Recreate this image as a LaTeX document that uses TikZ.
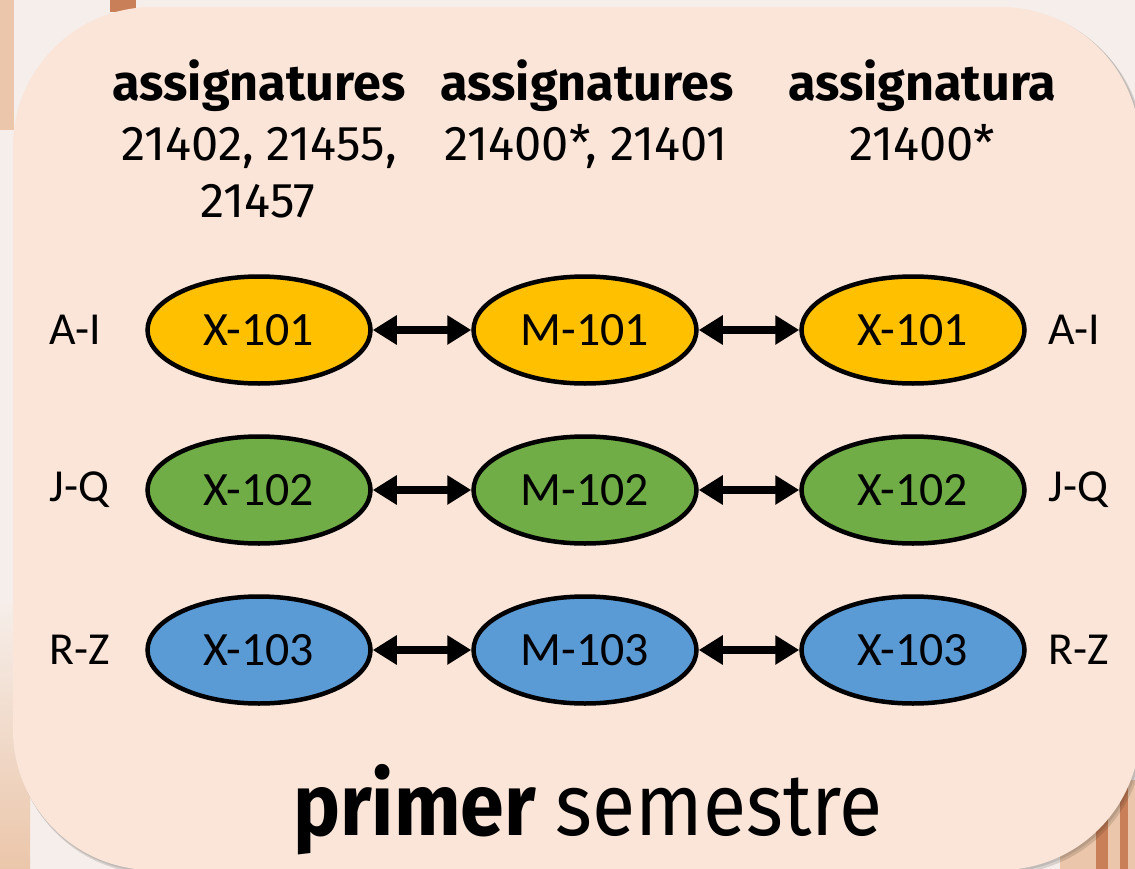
\documentclass[tikz,border=0pt]{standalone}
\usepackage{fontspec}
\setmainfont{Carlito}
\newfontfamily\hfont{Fira Sans}
\newfontfamily\ffont[FakeStretch=0.9]{Fira Sans}
\usetikzlibrary{arrows.meta,shapes.geometric}
\definecolor{panel}{HTML}{FAE5D8}
\definecolor{cyel}{HTML}{FFC000}
\definecolor{cgrn}{HTML}{70AD47}
\definecolor{cblu}{HTML}{5B9BD5}
\definecolor{bgl}{HTML}{F6EEEA}
\definecolor{wood}{HTML}{C98058}
\definecolor{woodl}{HTML}{EBC6AA}
\begin{document}
\begin{tikzpicture}[x=1bp,y=-1bp,
  ell/.style={ellipse,draw=black,line width=4.5bp,minimum width=223bp,minimum height=107bp,inner sep=0pt,font=\fontsize{48}{56}\selectfont},
  biarrow/.style={line width=8bp,{Triangle[length=24bp,width=28bp]}-{Triangle[length=24bp,width=28bp]}},
  side/.style={anchor=west,font=\fontsize{46}{52}\selectfont},
  head/.style={anchor=base,font=\hfont\bfseries\fontsize{50.5}{56}\selectfont},
  num/.style={anchor=base,font=\hfont\fontsize{49}{56}\selectfont}]
\useasboundingbox (0,0) rectangle (1135,869);
% background
\fill[bgl] (0,0) rectangle (1135,869);
\fill[woodl] (0,0) rectangle (14,130);
\fill[wood] (110,0) rectangle (136,12);
\shade[top color=bgl,bottom color=woodl] (0,600) rectangle (30,869);
\fill[woodl] (1060,780) rectangle (1135,869);
\fill[wood] (1096,790) rectangle (1108,869);
\fill[wood] (1120,770) rectangle (1128,869);
% shadow and panel
\fill[black,opacity=0.12,rounded corners=140bp] (15,10) rectangle (1144,874);
\fill[black,opacity=0.10,rounded corners=140bp] (14,8) rectangle (1142,872);
\fill[panel,rounded corners=140bp] (13,7) rectangle (1140,870);
% headers
\node[head] (h1) at (259,100) {assignatures};
\node[num] (n1a) at (259,160) {21402, 21455,};
\node[num] (n1b) at (258,217) {21457};
\node[head] (h2) at (587,100) {assignatures};
\node[num] (n2) at (586,160) {21400*, 21401};
\node[head] (h3) at (922,100) {assignatura};
\node[num] (n3) at (922,160) {21400*};
% ellipses
\node[ell,fill=cyel] (x1) at (259,330) {X-101};
\node[ell,fill=cyel] (m1) at (585,330) {M-101};
\node[ell,fill=cyel] (y1) at (913,330) {X-101};
\node[ell,fill=cgrn] (x2) at (259,490) {X-102};
\node[ell,fill=cgrn] (m2) at (585,490) {M-102};
\node[ell,fill=cgrn] (y2) at (913,490) {X-102};
\node[ell,fill=cblu] (x3) at (259,650) {X-103};
\node[ell,fill=cblu] (m3) at (585,650) {M-103};
\node[ell,fill=cblu] (y3) at (913,650) {X-103};
\foreach \r in {1,2,3}{
  \draw[biarrow] (x\r) -- (m\r);
  \draw[biarrow] (m\r) -- (y\r);
}
% side labels
\node[side] (l1) at (46,330) {A-I};
\node[side] (l2) at (46,490) {J-Q};
\node[side] (l3) at (46,650) {R-Z};
\node[side] (r1) at (1045,330) {A-I};
\node[side] (r2) at (1045,490) {J-Q};
\node[side] (r3) at (1045,650) {R-Z};
% footer
\node[anchor=base,font=\fontsize{88}{100}\selectfont] (ft) at (588,835) {{\ffont\bfseries primer} {\ffont semestre}};
\end{tikzpicture}
\end{document}
